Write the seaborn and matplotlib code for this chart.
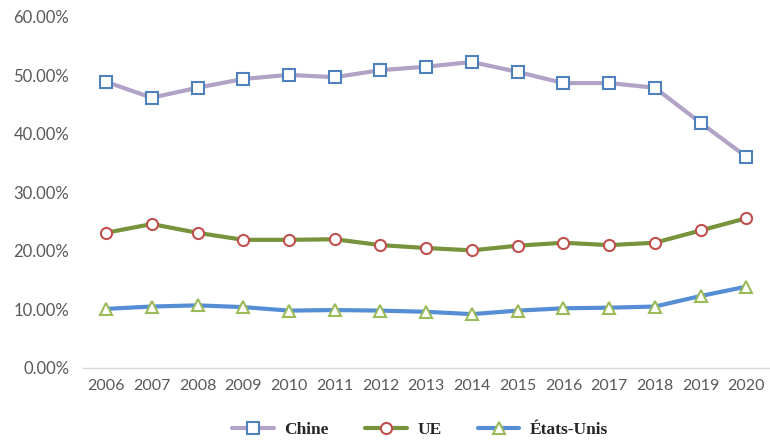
import matplotlib
matplotlib.use('Agg')
import matplotlib.pyplot as plt
import seaborn as sns
import pandas as pd
from matplotlib.ticker import FuncFormatter

years = list(range(2006, 2021))
chine = [48.9, 46.2, 47.9, 49.4, 50.1, 49.7, 50.9, 51.5, 52.3, 50.6, 48.7, 48.7, 47.9, 41.9, 36.1]
ue = [23.1, 24.6, 23.1, 21.9, 21.9, 22.0, 21.0, 20.5, 20.1, 20.9, 21.4, 21.0, 21.4, 23.5, 25.6]
usa = [10.1, 10.5, 10.7, 10.4, 9.8, 9.9, 9.8, 9.6, 9.2, 9.8, 10.2, 10.3, 10.5, 12.3, 13.9]

sns.set_style('white')
plt.rcParams['font.family'] = ['Lato', 'DejaVu Sans']

fig = plt.figure(figsize=[7.7, 4.46], dpi=100)
ax = fig.add_axes([0.108, 0.175, 0.891, 0.787])

df = pd.DataFrame({'year': years, 'Chine': chine, 'UE': ue, 'États-Unis': usa})

# (series, line colour, marker, marker edge colour)
styles = [('Chine', '#B3A2C7', 's', '#4F81BD'),
          ('UE', '#77933C', 'o', '#C0504D'),
          ('États-Unis', '#558ED5', '^', '#9BBB59')]

for name, lc, mk, mc in styles:
    sns.lineplot(x='year', y=name, data=df, ax=ax, label=name, color=lc,
                 linewidth=3, marker=mk, markersize=8, markerfacecolor='white',
                 markeredgecolor=mc, markeredgewidth=1.5)

ax.set_xlim(2005.5, 2020.5)
ax.set_ylim(0, 60)
ax.set_xticks(years)
ax.set_yticks(range(0, 61, 10))
ax.yaxis.set_major_formatter(FuncFormatter(lambda v, p: '%.2f%%' % v))
ax.tick_params(axis='both', labelsize=12, colors='#595959', length=0)
ax.tick_params(axis='x', labelsize=11.5)
ax.tick_params(axis='y', pad=10)
ax.tick_params(axis='x', pad=8)
ax.set_xlabel('')
ax.set_ylabel('')
for s in ['top', 'right', 'left']:
    ax.spines[s].set_visible(False)
ax.spines['bottom'].set_color('#D9D9D9')
ax.spines['bottom'].set_linewidth(1)

ax.legend(loc='center', bbox_to_anchor=(0.491, -0.177),
          ncol=3, frameon=False, handlelength=2.4, handletextpad=0.6,
          columnspacing=2.1,
          prop={'family': 'Liberation Serif', 'weight': 'bold', 'size': 12.5})

plt.savefig('out.png', dpi=100)
